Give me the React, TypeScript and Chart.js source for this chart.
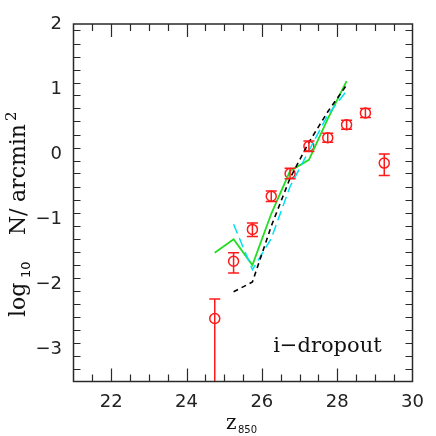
import React, { useEffect, useRef } from 'react';
import { Chart, registerables } from 'chart.js';

Chart.register(...registerables);

// ---- data ----
const magBins = [24.75, 25.25, 25.75, 26.25, 26.75, 27.25, 27.75, 28.25, 28.75, 29.25];
const logCounts = [-2.53, -1.65, -1.16, -0.65, -0.3, 0.12, 0.25, 0.45, 0.63, -0.14];
const errUp = [0.3, 0.13, 0.1, 0.08, 0.08, 0.08, 0.07, 0.07, 0.07, 0.14];
const errDown = [2.0, 0.18, 0.11, 0.08, 0.08, 0.08, 0.07, 0.07, 0.07, 0.19];

const greenMag = [24.75, 25.25, 25.75, 26.25, 26.75, 27.25, 27.75, 28.25];
const greenLog = [-1.52, -1.31, -1.71, -0.92, -0.26, -0.09, 0.54, 1.12];

const cyanMag = [25.25, 25.75, 26.25, 26.75, 27.25, 27.75, 28.25];
const cyanLog = [-1.08, -1.78, -1.3, -0.5, 0.05, 0.6, 0.97];

const blackMag = [25.25, 25.75, 26.25, 26.75, 27.25, 27.75, 28.25];
const blackLog = [-2.12, -1.97, -1.11, -0.37, 0.18, 0.65, 1.06];

const xTickValues = [22, 24, 26, 28, 30];
const yTickValues = [-3, -2, -1, 0, 1, 2];
const xRange = [21, 30];
const yRange = [-3.5, 2];
const annotation = 'i\u2212dropout';

const pts = (xs: number[], ys: number[]) => xs.map((x, i) => ({ x, y: ys[i] }));
const fmt = (v: number) => (v < 0 ? '\u2212' + Math.abs(v) : String(v));

const FRAME = '#2a2a2a';

const framePlugin = {
  id: 'frameTicks',
  afterDraw(chart: any) {
    const { ctx, chartArea, scales } = chart;
    const { left, right, top, bottom } = chartArea;
    const xs = scales.x;
    const ys = scales.y;
    ctx.save();
    ctx.strokeStyle = FRAME;
    ctx.lineWidth = 1.5;
    ctx.strokeRect(left, top, right - left, bottom - top);
    ctx.lineWidth = 1.2;
    const nX = Math.round((xRange[1] - xRange[0]) / 0.5);
    for (let i = 1; i < nX; i++) {
      const v = xRange[0] + i * 0.5;
      const major = xTickValues.includes(v);
      const len = major ? 13 : 7;
      const px = Math.round(xs.getPixelForValue(v)) + 0.5;
      ctx.beginPath();
      ctx.moveTo(px, bottom);
      ctx.lineTo(px, bottom - len);
      ctx.moveTo(px, top);
      ctx.lineTo(px, top + len);
      ctx.stroke();
    }
    const nY = Math.round((yRange[1] - yRange[0]) / 0.2);
    for (let i = 1; i < nY; i++) {
      const v = Math.round((yRange[0] + i * 0.2) * 10) / 10;
      const major = Math.abs(v - Math.round(v)) < 1e-6;
      const len = major ? 13 : 7;
      const py = Math.round(ys.getPixelForValue(v)) + 0.5;
      ctx.beginPath();
      ctx.moveTo(left, py);
      ctx.lineTo(left + len, py);
      ctx.moveTo(right, py);
      ctx.lineTo(right - len, py);
      ctx.stroke();
    }
    ctx.restore();
  },
};

const errorBarPlugin = {
  id: 'errorBars',
  afterDatasetsDraw(chart: any) {
    const { ctx, chartArea, scales } = chart;
    const xs = scales.x;
    const ys = scales.y;
    ctx.save();
    ctx.beginPath();
    ctx.rect(chartArea.left, chartArea.top, chartArea.right - chartArea.left, chartArea.bottom - chartArea.top);
    ctx.clip();
    ctx.strokeStyle = '#ff1a1a';
    ctx.lineWidth = 1.5;
    magBins.forEach((m, i) => {
      const px = xs.getPixelForValue(m);
      const yHi = ys.getPixelForValue(logCounts[i] + errUp[i]);
      const yLo = ys.getPixelForValue(logCounts[i] - errDown[i]);
      ctx.beginPath();
      ctx.moveTo(px, yHi);
      ctx.lineTo(px, yLo);
      ctx.moveTo(px - 5.5, yHi);
      ctx.lineTo(px + 5.5, yHi);
      ctx.moveTo(px - 5.5, yLo);
      ctx.lineTo(px + 5.5, yLo);
      ctx.stroke();
    });
    ctx.restore();
  },
};

const titlePlugin = {
  id: 'titles',
  afterDraw(chart: any) {
    const { ctx, scales } = chart;
    ctx.save();
    ctx.fillStyle = '#111';
    ctx.textBaseline = 'alphabetic';
    ctx.textAlign = 'left';
    // y title, rotated
    ctx.save();
    ctx.translate(25, 317);
    ctx.rotate(-Math.PI / 2);
    ctx.font = '22px "DejaVu Serif"';
    ctx.fillText('log', 0, 0);
    ctx.font = '13px "DejaVu Sans"';
    ctx.fillText('10', 39, 5);
    ctx.font = '22px "DejaVu Serif"';
    ctx.fillText('N', 82, 0);
    ctx.fillText('/', 101, 0);
    ctx.fillText('arcmin', 115, 0);
    ctx.font = '15px "DejaVu Serif"';
    ctx.fillText('2', 196, -9);
    ctx.restore();
    // x title
    ctx.font = '20px "DejaVu Serif"';
    ctx.fillText('z', 226, 429);
    ctx.font = '10px "DejaVu Sans"';
    ctx.fillText('850', 238, 433);
    // annotation
    ctx.font = '21px "DejaVu Serif"';
    ctx.fillText(annotation, scales.x.getPixelForValue(26.3), scales.y.getPixelForValue(-3.05));
    ctx.restore();
  },
};

export default function App() {
  const ref = useRef<HTMLCanvasElement>(null);
  useEffect(() => {
    const chart = new Chart(ref.current as HTMLCanvasElement, {
      type: 'scatter',
      data: {
        datasets: [
          {
            type: 'line',
            data: pts(blackMag, blackLog),
            borderColor: '#000000',
            borderWidth: 1.6,
            borderDash: [5, 4],
            pointRadius: 0,
            fill: false,
            tension: 0,
          },
          {
            type: 'line',
            data: pts(cyanMag, cyanLog),
            borderColor: '#00e0f0',
            borderWidth: 1.5,
            borderDash: [10, 5],
            pointRadius: 0,
            fill: false,
            tension: 0,
          },
          {
            type: 'line',
            data: pts(greenMag, greenLog),
            borderColor: '#22dd22',
            borderWidth: 1.8,
            pointRadius: 0,
            fill: false,
            tension: 0,
          },
          {
            type: 'scatter',
            data: pts(magBins, logCounts),
            borderColor: '#ff1a1a',
            backgroundColor: 'rgba(0,0,0,0)',
            borderWidth: 1.5,
            pointRadius: 5,
            pointStyle: 'circle',
          },
        ] as any,
      },
      options: {
        animation: false,
        responsive: false,
        devicePixelRatio: 1,
        events: [],
        layout: { padding: { left: 0, top: 24, right: 23.5, bottom: 0 } },
        plugins: { legend: { display: false }, tooltip: { enabled: false } },
        scales: {
          x: {
            type: 'linear',
            min: xRange[0],
            max: xRange[1],
            grid: { display: false, drawTicks: false },
            border: { display: false },
            afterBuildTicks: (axis: any) => {
              axis.ticks = xTickValues.map((v) => ({ value: v }));
            },
            afterFit: (axis: any) => {
              axis.height = 54.5;
            },
            ticks: {
              padding: 10,
              color: '#222',
              font: { family: '"DejaVu Sans"', size: 18 },
              callback: (v: any) => fmt(Number(v)),
              maxRotation: 0,
              autoSkip: false,
            },
          },
          y: {
            type: 'linear',
            min: yRange[0],
            max: yRange[1],
            grid: { display: false, drawTicks: false },
            border: { display: false },
            afterBuildTicks: (axis: any) => {
              axis.ticks = yTickValues.map((v) => ({ value: v }));
            },
            afterFit: (axis: any) => {
              axis.width = 73.5;
            },
            ticks: {
              padding: 11.5,
              color: '#222',
              font: { family: '"DejaVu Sans"', size: 18 },
              callback: (v: any) => fmt(Number(v)),
              autoSkip: false,
            },
          },
        },
      } as any,
      plugins: [errorBarPlugin, framePlugin, titlePlugin],
    });
    return () => chart.destroy();
  }, []);
  return (
    <div style={{ position: 'fixed', left: 0, top: 0, width: 436, height: 436, background: '#fff' }}>
      <canvas ref={ref} width={436} height={436} style={{ width: 436, height: 436, display: 'block' }} />
    </div>
  );
}
